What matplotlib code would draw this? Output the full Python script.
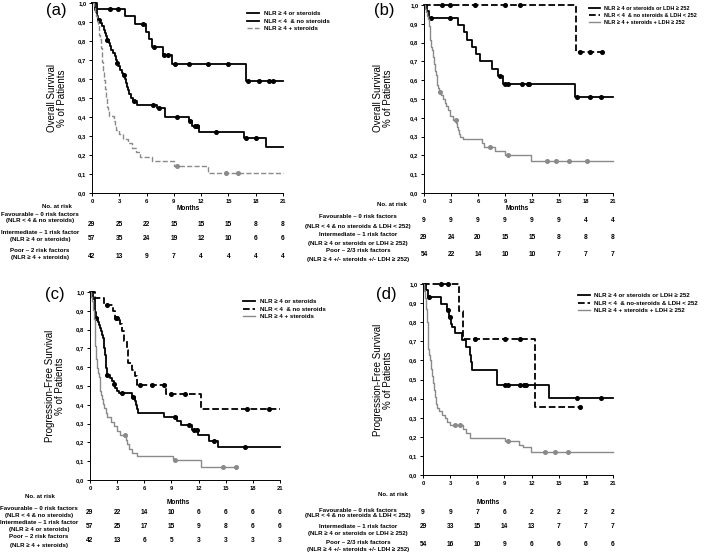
import numpy as np
import matplotlib
matplotlib.use('Agg')
import matplotlib.pyplot as plt
from matplotlib.lines import Line2D
from matplotlib.ticker import FuncFormatter
import matplotlib.transforms as mtransforms

plt.rcParams['font.family'] = ['Liberation Sans Narrow', 'Liberation Sans', 'DejaVu Sans']

W, H = 709, 555
months = [0, 3, 6, 9, 12, 15, 18, 21]

# ---------------- panel (a): overall survival, NLR / steroids
a_fav_t = [0.5, 3.6, 4.7, 5.9, 6.3, 6.6, 7.8, 8.75, 16.9]
a_fav_s = [0.966, 0.931, 0.888, 0.85, 0.81, 0.77, 0.725, 0.677, 0.59]
a_fav_c = [2.0, 2.9, 5.6, 6.85, 7.9, 8.4, 9.1, 10.7, 12.7, 15.0, 17.2, 18.4, 19.5, 19.9]
a_int_t = [0.3, 0.5, 0.65, 0.9, 1.1, 1.3, 1.45, 1.55, 1.65, 1.9, 2.0, 2.1, 2.3, 2.5, 2.65, 2.75,
           2.9, 3.1, 3.3, 3.45, 3.65, 3.75, 3.85, 3.95, 4.1, 4.3, 4.5, 4.9, 7.2, 8.0, 10.7, 11.0,
           11.8, 16.7, 19.1]
a_int_s = [0.965, 0.93, 0.912, 0.895, 0.877, 0.86, 0.842, 0.825, 0.807, 0.79, 0.772, 0.754, 0.737,
           0.72, 0.702, 0.684, 0.667, 0.649, 0.632, 0.622, 0.60, 0.58, 0.56, 0.54, 0.52, 0.50,
           0.485, 0.465, 0.445, 0.40, 0.378, 0.355, 0.32, 0.29, 0.24]
a_int_c = [0.73, 1.7, 2.8, 3.5, 4.65, 6.7, 7.35, 9.4, 10.8, 11.3, 11.5, 13.6, 16.9, 18.0]
a_poor_t = [0.2, 0.35, 0.45, 0.55, 0.65, 0.75, 0.8, 0.9, 0.95, 1.0, 1.05, 1.1, 1.15, 1.2, 1.25,
            1.3, 1.35, 1.4, 1.45, 1.5, 1.55, 1.6, 1.65, 1.75, 1.85, 2.45, 2.5, 2.6, 3.0, 3.4,
            4.0, 4.4, 4.8, 5.3, 6.6, 9.0, 12.7]
a_poor_s = [0.976, 0.952, 0.929, 0.905, 0.881, 0.857, 0.833, 0.81, 0.786, 0.762, 0.738, 0.714,
            0.69, 0.667, 0.643, 0.619, 0.595, 0.571, 0.548, 0.524, 0.50, 0.476, 0.452, 0.429,
            0.405, 0.381, 0.357, 0.333, 0.31, 0.286, 0.262, 0.238, 0.214, 0.19, 0.167, 0.143, 0.107]
a_poor_c = [9.4, 14.7, 16.0]

# ---------------- panel (b): overall survival, NLR / steroids / LDH
b_fav_t = [16.9]
b_fav_s = [0.75]
b_fav_c = [2.0, 2.9, 5.7, 9.0, 10.7, 17.3, 18.4, 19.8]
b_int_t = [0.3, 0.6, 3.8, 4.4, 4.8, 5.3, 5.8, 6.2, 7.6, 8.2, 8.8, 16.8]
b_int_s = [0.966, 0.93, 0.893, 0.855, 0.815, 0.776, 0.738, 0.70, 0.66, 0.622, 0.58, 0.508]
b_int_c = [0.75, 2.9, 8.5, 9.05, 9.3, 10.9, 11.5, 11.65, 17.0, 18.4, 19.7]
b_poor_t = [0.1, 0.2, 0.3, 0.45, 0.55, 0.62, 0.7, 0.8, 0.9, 1.0, 1.1, 1.2, 1.3, 1.4, 1.5, 1.6,
            1.7, 1.9, 2.15, 2.35, 2.5, 2.65, 2.9, 3.2, 3.6, 3.7, 3.8, 3.9, 4.05, 4.3, 6.4, 6.7,
            7.9, 9.0, 11.85]
b_poor_s = [0.981, 0.963, 0.944, 0.926, 0.889, 0.852, 0.815, 0.778, 0.759, 0.722, 0.685, 0.648,
            0.63, 0.611, 0.574, 0.556, 0.537, 0.519, 0.50, 0.48, 0.463, 0.444, 0.407, 0.389,
            0.37, 0.352, 0.333, 0.315, 0.296, 0.285, 0.265, 0.245, 0.222, 0.20, 0.17]
b_poor_c = [1.75, 3.55, 7.3, 9.3, 13.7, 14.7, 16.1, 18.1]

# ---------------- panel (c): progression-free survival, NLR / steroids
c_fav_t = [0.5, 1.5, 2.5, 2.8, 3.3, 3.55, 3.8, 4.1, 4.2, 4.6, 5.0, 5.2, 8.4, 12.3]
c_fav_s = [0.966, 0.931, 0.897, 0.862, 0.828, 0.793, 0.741, 0.69, 0.62, 0.586, 0.552, 0.507,
           0.459, 0.38]
c_fav_c = [1.9, 2.85, 3.0, 5.5, 6.8, 8.2, 9.0, 10.5, 17.3, 19.8]
c_int_t = [0.3, 0.5, 0.6, 0.65, 0.9, 1.0, 1.1, 1.2, 1.3, 1.4, 1.5, 1.55, 1.6, 1.65, 1.7, 1.72,
           1.75, 1.78, 1.8, 1.83, 1.86, 2.2, 2.4, 2.6, 2.8, 3.0, 3.2, 4.6, 5.0, 5.1, 5.15, 5.25,
           8.2, 9.6, 10.1, 11.3, 11.9, 13.1, 14.1]
c_int_s = [0.965, 0.93, 0.895, 0.86, 0.842, 0.825, 0.807, 0.79, 0.772, 0.754, 0.737, 0.72,
           0.702, 0.684, 0.667, 0.649, 0.632, 0.614, 0.596, 0.579, 0.561, 0.544, 0.526, 0.509,
           0.49, 0.475, 0.465, 0.44, 0.42, 0.40, 0.38, 0.358, 0.335, 0.312, 0.29, 0.266, 0.24,
           0.21, 0.175]
c_int_c = [0.7, 1.9, 2.7, 3.5, 4.7, 9.4, 10.9, 11.5, 11.8, 13.7, 17.1]
c_poor_t = [0.1, 0.2, 0.3, 0.4, 0.5, 0.6, 0.7, 0.75, 0.85, 0.95, 1.05, 1.15, 1.25, 1.35, 1.45,
            1.6, 1.75, 1.9, 2.3, 2.7, 3.0, 3.3, 4.0, 4.05, 4.3, 4.6, 5.2, 9.2, 12.3]
c_poor_s = [0.976, 0.95, 0.905, 0.857, 0.786, 0.714, 0.643, 0.595, 0.571, 0.548, 0.50, 0.476,
            0.452, 0.429, 0.405, 0.381, 0.357, 0.333, 0.31, 0.286, 0.262, 0.238, 0.214, 0.19,
            0.167, 0.143, 0.13, 0.107, 0.071]
c_poor_c = [3.9, 9.4, 14.7, 16.1]

# ---------------- panel (d): progression-free survival, NLR / steroids / LDH
d_fav_t = [4.0, 4.4, 12.4]
d_fav_s = [0.857, 0.714, 0.357]
d_fav_c = [2.0, 2.8, 5.7, 9.1, 10.7, 17.3]
d_int_t = [0.3, 0.5, 2.0, 2.6, 2.85, 3.05, 3.2, 3.5, 4.3, 4.8, 5.2, 5.3, 5.4, 8.2, 13.9]
d_int_s = [0.966, 0.931, 0.897, 0.862, 0.827, 0.793, 0.776, 0.742, 0.705, 0.67, 0.63, 0.59,
           0.55, 0.472, 0.403]
d_int_c = [0.65, 2.75, 2.95, 9.05, 9.4, 10.7, 11.2, 11.4, 17.0, 19.7]
d_poor_t = [0.1, 0.2, 0.3, 0.4, 0.5, 0.55, 0.7, 0.8, 0.9, 1.0, 1.1, 1.2, 1.3, 1.45, 1.6, 1.75,
            2.1, 2.4, 2.7, 3.0, 4.4, 4.8, 5.2, 9.1, 10.6, 11.0, 11.9]
d_poor_s = [0.963, 0.926, 0.87, 0.80, 0.70, 0.66, 0.63, 0.60, 0.556, 0.519, 0.481, 0.444,
            0.407, 0.37, 0.352, 0.333, 0.315, 0.296, 0.278, 0.26, 0.24, 0.22, 0.195, 0.176,
            0.157, 0.148, 0.123]
d_poor_c = [3.5, 4.1, 9.4, 13.5, 14.6, 16.0]

# numbers at risk
a_risk = [[29, 25, 22, 15, 15, 15, 8, 8], [57, 35, 24, 19, 12, 10, 6, 6], [42, 13, 9, 7, 4, 4, 4, 4]]
b_risk = [[9, 9, 9, 9, 9, 9, 4, 4], [29, 24, 20, 15, 15, 8, 8, 8], [54, 22, 14, 10, 10, 7, 7, 7]]
c_risk = [[29, 22, 14, 10, 6, 6, 6, 6], [57, 25, 17, 15, 9, 8, 6, 6], [42, 13, 6, 5, 3, 3, 3, 3]]
d_risk = [[9, 9, 7, 6, 2, 2, 2, 2], [29, 33, 15, 14, 13, 7, 7, 7], [54, 16, 10, 9, 6, 6, 6, 6]]

risk_labels_2 = ["Favourable – 0 risk factors", "(NLR < 4 & no steroids)",
                 "Intermediate – 1 risk factor", "(NLR ≥ 4 or steroids)",
                 "Poor – 2 risk factors", "(NLR ≥ 4 + steroids)"]
risk_labels_3 = ["Favourable – 0 risk factors", "(NLR < 4 & no steroids & LDH < 252)",
                 "Intermediate – 1 risk factor", "(NLR ≥ 4 or steroids or LDH ≥ 252)",
                 "Poor – 2/3 risk factors", "(NLR ≥ 4 +/- steroids +/- LDH ≥ 252)"]
leg_a = ["NLR ≥ 4 or steroids", "NLR < 4  & no steroids", "NLR ≥ 4 + steroids"]
leg_b = ["NLR ≥ 4 or steroids or LDH ≥ 252", "NLR < 4  & no steroids & LDH < 252",
         "NLR ≥ 4 + steroids + LDH ≥ 252"]
leg_d = ["NLR ≥ 4 or steroids or LDH ≥ 252", "NLR < 4  & no-steroids & LDH < 252",
         "NLR ≥ 4 + steroids + LDH ≥ 252"]

GRAY = '#8a8a8a'
TXT = 4.4  # small bold text size (table, legends)
fig = plt.figure(figsize=(W / 100, H / 100), dpi=100)


def fx(x):
    return x / W


def fy(y):
    return 1 - y / H


def make_ax(l, r, t, b):
    ax = fig.add_axes([fx(l), fy(b), fx(r - l), (b - t) / H])
    ax.set_xlim(0, 21)
    ax.set_ylim(0, 1.0)
    ax.set_xticks(months)
    ax.set_yticks(np.arange(0, 1.01, 0.1))
    ax.yaxis.set_major_formatter(FuncFormatter(lambda v, p: f"{v:.1f}".replace('.', ',')))
    for s in ['top', 'right']:
        ax.spines[s].set_visible(False)
    for s in ['left', 'bottom']:
        ax.spines[s].set_linewidth(0.7)
    ax.tick_params(direction='out', length=2.5, width=0.7, labelsize=4.2, pad=1.5)
    for lab in ax.get_xticklabels() + ax.get_yticklabels():
        lab.set_fontweight('bold')
    return ax


def km(ax, t, s, cens, t_end, color, ls='-', lw=1.3):
    x = [0] + list(t) + [t_end]
    y = [1.0] + list(s) + [s[-1]]
    ax.step(x, y, where='post', color=color, ls=ls, lw=lw, clip_on=False)
    idx = np.searchsorted(np.array(x), np.array(cens), side='right') - 1
    cy = np.array(y)[idx]
    ax.plot(cens, cy, 'o', ms=2.6, color=color, clip_on=False)


def legend(ax, labels, styles, x, y, size=TXT):
    handles = [Line2D([], [], color=c, ls=ls, lw=lw) for c, ls, lw in styles]
    fig.legend(handles, labels, loc='upper left', bbox_to_anchor=(fx(x), fy(y)),
               frameon=False, prop={'size': size, 'weight': 'bold'}, handlelength=2.0,
               handletextpad=0.7, labelspacing=0.35, borderpad=0, borderaxespad=0)


def risk_table(ax, risk, labels, lab_x, num_y, lab_y, atrisk_xy, months_xy):
    tr = mtransforms.blended_transform_factory(ax.transData, fig.transFigure)
    for row, yy in zip(risk, num_y):
        for m, n in zip(months, row):
            ax.text(m, fy(yy), str(n), transform=tr, ha='center', va='center',
                    fontsize=4.8, fontweight='bold')
    for lab, yy in zip(labels, lab_y):
        fig.text(fx(lab_x), fy(yy), lab, ha='center', va='center', fontsize=TXT, fontweight='bold')
    fig.text(fx(atrisk_xy[0]), fy(atrisk_xy[1]), "No. at risk", ha='center', va='center',
             fontsize=TXT, fontweight='bold')
    fig.text(fx(months_xy[0]), fy(months_xy[1]), "Months", ha='center', va='center',
             fontsize=TXT + 0.3, fontweight='bold')


def ylabel(x, y, text):
    fig.text(fx(x), fy(y), text, rotation=90, ha='center', va='center', fontsize=7,
             linespacing=1.1)


# ---- (a)
axa = make_ax(92, 283, 3, 193)
km(axa, a_fav_t, a_fav_s, a_fav_c, 21, 'black')
km(axa, a_int_t, a_int_s, a_int_c, 21, 'black')
km(axa, a_poor_t, a_poor_s, a_poor_c, 21, GRAY, ls='--', lw=1.0)
legend(axa, leg_a, [('black', '-', 1.3), ('black', '-', 1.3), (GRAY, '--', 1.0)], 247, 11)
ylabel(57, 98, "Overall Survival\n% of Patients")
fig.text(fx(56), fy(10), "(a)", fontsize=12, ha='center', va='center')
risk_table(axa, a_risk, risk_labels_2, 40, [224, 239, 256],
           [215, 221, 233, 239, 251, 258], (57, 206), (188, 209))

# ---- (b)
axb = make_ax(424, 613, 5, 193)
km(axb, b_int_t, b_int_s, b_int_c, 21, 'black')
km(axb, b_fav_t, b_fav_s, b_fav_c, 20.1, 'black', ls='--')
km(axb, b_poor_t, b_poor_s, b_poor_c, 21, GRAY, lw=1.0)
legend(axb, leg_b, [('black', '-', 1.3), ('black', '--', 1.3), (GRAY, '-', 1.0)], 589, 6,
       size=4.0)
ylabel(383, 98, "Overall Survival\n% of Patients")
fig.text(fx(384), fy(10), "(b)", fontsize=12, ha='center', va='center')
risk_table(axb, b_risk, risk_labels_3, 358, [221, 237, 254],
           [217, 226, 234, 243, 251, 260], (392, 205), (517, 209))

# ---- (c)
axc = make_ax(90, 280, 292, 480)
km(axc, c_int_t, c_int_s, c_int_c, 21, 'black')
km(axc, c_fav_t, c_fav_s, c_fav_c, 21, 'black', ls='--')
km(axc, c_poor_t, c_poor_s, c_poor_c, 16.1, GRAY, lw=1.0)
legend(axc, leg_a, [('black', '-', 1.3), ('black', '--', 1.3), (GRAY, '-', 1.0)], 243, 299)
ylabel(55, 386, "Progression-Free Survival\n% of Patients")
fig.text(fx(55), fy(295), "(c)", fontsize=12, ha='center', va='center')
risk_table(axc, c_risk, risk_labels_2, 39, [512, 526, 540],
           [509, 516, 523, 530, 537, 545], (40, 496), (178, 502))

# ---- (d)
axd = make_ax(423, 613, 284, 475)
km(axd, d_int_t, d_int_s, d_int_c, 21, 'black')
km(axd, d_fav_t, d_fav_s, d_fav_c, 17.3, 'black', ls='--')
km(axd, d_poor_t, d_poor_s, d_poor_c, 21, GRAY, lw=1.0)
legend(axd, leg_d, [('black', '-', 1.3), ('black', '--', 1.3), (GRAY, '-', 1.0)], 578, 293)
ylabel(383, 380, "Progression-Free Survival\n% of Patients")
fig.text(fx(386), fy(295), "(d)", fontsize=12, ha='center', va='center')
risk_table(axd, d_risk, risk_labels_3, 358, [513, 527, 544],
           [510, 516, 527, 533, 543, 550], (393, 495), (488, 502))

fig.savefig('out.png', dpi=100)
